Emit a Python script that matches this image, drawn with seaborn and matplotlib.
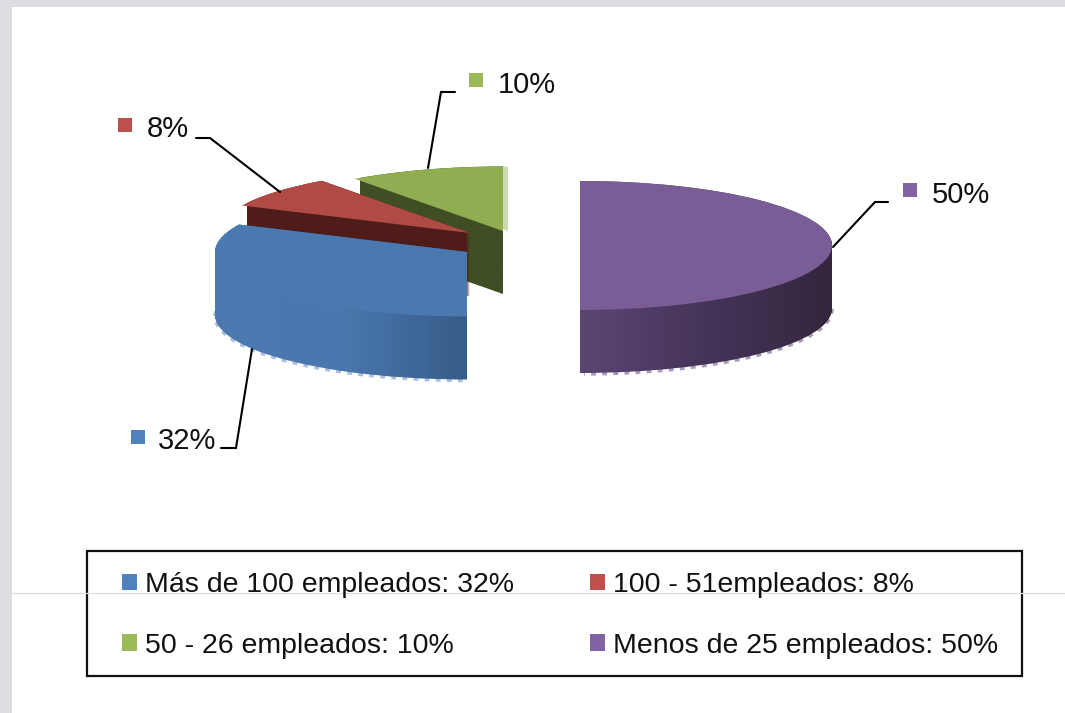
import numpy as np
import matplotlib
matplotlib.use("Agg")
import matplotlib.pyplot as plt
import seaborn as sns
from matplotlib.colors import LinearSegmentedColormap
from matplotlib.patches import Rectangle
from matplotlib.path import Path

# chart values
segments = ["Más de 100 empleados", "100 - 51empleados", "50 - 26 empleados", "Menos de 25 empleados"]
shares = [32, 8, 10, 50]

# colours: legend, top face, side gradient
legend_colors = sns.color_palette(["#4f81bd", "#c0504d", "#9bbb59", "#8064a2"])
top_colors = ["#4a79b0", "#b04a45", "#91ad52", "#7a5c96"]
side_colors = [
    ["#4a79b0", "#4a78ae", "#375c89"],
    ["#4f1c1a", "#4f1c1a", "#4f1c1a"],
    ["#404e24", "#404e24", "#404e24"],
    ["#5b4672", "#45345a", "#33263d"],
]
fringe_colors = ["#a9c0dc", None, None, "#a99bb8"]

# layout in pixels of the 1065x713 picture
W, H = 1065, 713
RX, RY, DEPTH = 252, 64.5, 63
centers = [(467, 252), (470, 233), (503, 231), (580, 245.5)]
side_spans = [(215, 467), (247, 470), (360, 503), (580, 833)]
fringe_spans = [(205, 464), None, None, (584, 845)]
draw_order = [2, 1, 0, 3]

leader_lines = [
    [(221, 448), (236, 448), (252, 349)],
    [(196, 138), (210, 138), (280, 192)],
    [(455, 92), (441, 92), (428, 168)],
    [(888, 202), (875, 202), (833, 247)],
]
square_pos = [(138, 437), (125, 125), (476, 80), (910, 190)]
text_pos = [(158, 441), (147, 129), (498, 85), (932, 195)]

sns.set_theme(style="white")
plt.rcParams["font.family"] = ["Liberation Sans", "DejaVu Sans"]
FS = 20.5

fig = plt.figure(figsize=(W / 100, H / 100), dpi=100, facecolor="white")
ax = fig.add_axes([0, 0, 1, 1])


def to_data(px, py):
    return px / RX, -py / RY


# slices go clockwise from 6 o'clock, back slices are drawn first
starts = 180 + 3.6 * np.cumsum([0] + shares[:-1])
zorder = 2
for i in draw_order:
    cx, cy = centers[i]
    frac = shares[i] / 100
    math_start = 90 - starts[i]
    if i == 2:
        # pale edge on the right of the green slice
        ax.pie([frac], normalize=False, startangle=math_start, counterclock=False,
               center=to_data(cx + 5, cy), colors=[top_colors[i]],
               wedgeprops={"zorder": zorder - 0.5, "linewidth": 0, "alpha": 0.45})
    if fringe_colors[i]:
        fringe = ax.pie([frac], normalize=False, startangle=math_start, counterclock=False,
                        center=to_data(cx, cy + DEPTH + 1),
                        wedgeprops={"zorder": zorder - 0.5, "facecolor": "none",
                                    "edgecolor": fringe_colors[i], "linewidth": 2.5,
                                    "linestyle": (0, (1.4, 1.8))})[0][0]
        # pie switches clipping off, only the arc should show
        f0, f1 = fringe_spans[i]
        fringe.set_clip_on(True)
        fringe.set_clip_path(Rectangle((f0 / RX, -H / RY), (f1 - f0) / RX, H / RY, transform=ax.transData))
    wedges = ax.pie([frac], normalize=False, startangle=math_start, counterclock=False,
                    center=to_data(cx, cy), colors=[top_colors[i]],
                    wedgeprops={"zorder": zorder + 1, "linewidth": 0})[0]
    # side of the slice: top face repeated downwards, filled with a gradient
    path = wedges[0].get_path()
    layers = [Path(path.vertices + [0, -d / RY], path.codes) for d in np.arange(0, DEPTH + 0.5, 1)]
    side = Path.make_compound_path(*layers)
    cmap = LinearSegmentedColormap.from_list("side", side_colors[i])
    x0, x1 = side_spans[i]
    im = ax.imshow(np.linspace(0, 1, 256)[None, :], cmap=cmap, aspect="auto", zorder=zorder,
                   extent=(x0 / RX, x1 / RX, -H / RY, 0))
    im.set_clip_path(side, transform=ax.transData)
    zorder += 2

ax.set_aspect("auto")
ax.set_xlim(0, W / RX)
ax.set_ylim(-H / RY, 0)
ax.axis("off")

# overlay in pixel coordinates for frame, leaders, labels and legend
top = fig.add_axes([0, 0, 1, 1], facecolor="none")
top.set_xlim(0, W)
top.set_ylim(H, 0)
top.axis("off")

top.add_patch(Rectangle((0, 0), W, 7, color="#dcdce1", lw=0))
top.add_patch(Rectangle((0, 0), 12, H, color="#dcdce1", lw=0))
top.plot([12, W], [593, 593], color="#dedede", lw=0.9)

for i, share in enumerate(shares):
    xs, ys = zip(*leader_lines[i])
    top.plot(xs, ys, color="black", lw=1.5, solid_joinstyle="miter")
    top.scatter(*square_pos[i], marker="s", s=110, color=legend_colors[i], linewidths=0)
    top.text(*text_pos[i], f"{share}%", fontsize=21, color="#111111", ha="left", va="center")

top.add_patch(Rectangle((87, 551), 935, 125, facecolor="none", edgecolor="#111111", lw=1.6))
# legend fills by column, the picture reads by row
legend_order = [0, 2, 1, 3]
handles = [Rectangle((0, 0), 1, 1, color=legend_colors[i], lw=0) for i in legend_order]
labels = [f"{segments[i]}: {shares[i]}%" for i in legend_order]
top.legend(handles, labels, ncol=2, frameon=False, fontsize=FS, loc="upper left",
           bbox_to_anchor=(122 / W, 1 - 572 / H), borderaxespad=0, borderpad=0,
           handlelength=0.52, handleheight=0.52, handletextpad=0.28,
           labelspacing=1.22, columnspacing=2.69, labelcolor="#111111")

fig.savefig("out.png", dpi=100, facecolor="white")
